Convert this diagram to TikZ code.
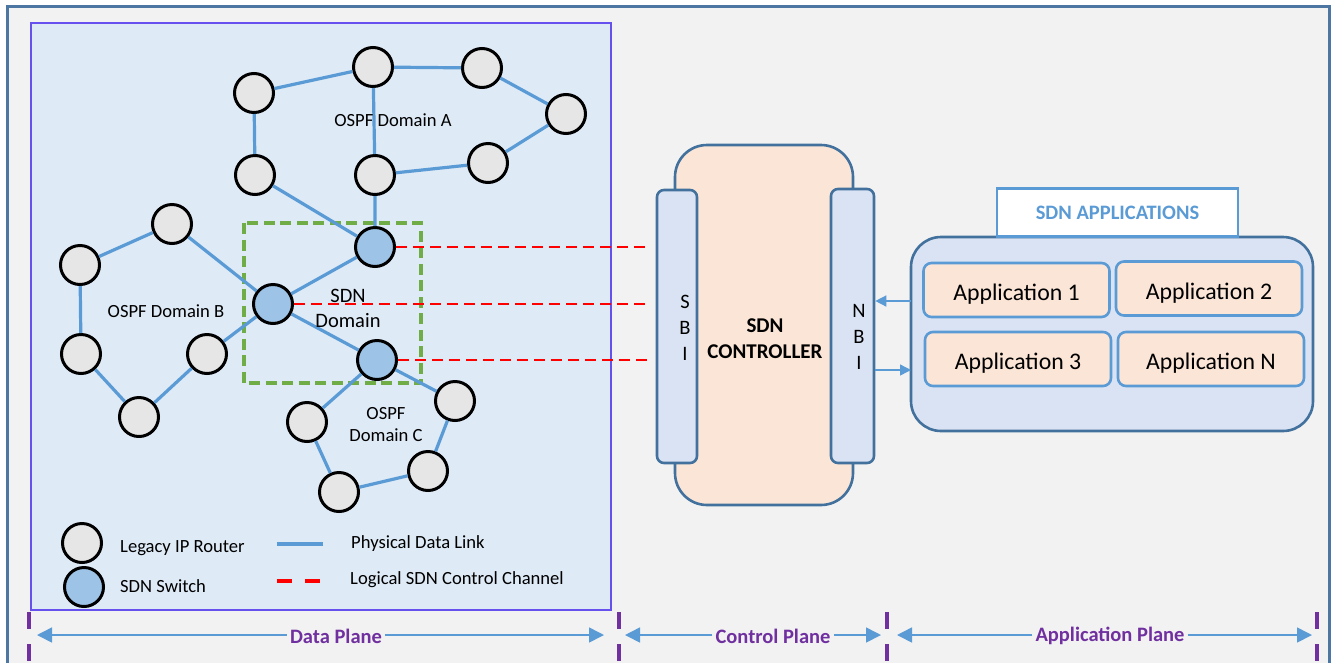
\documentclass[tikz,border=0pt]{standalone}
\usepackage{fontspec}
\setmainfont{Carlito}
\usetikzlibrary{arrows.meta}

\definecolor{bgray}{HTML}{F2F2F2}
\definecolor{frameblue}{HTML}{4D76A3}
\definecolor{dpfill}{HTML}{DEEAF6}
\definecolor{dpedge}{HTML}{6650EE}
\definecolor{linkblue}{HTML}{5B9BD5}
\definecolor{routerfill}{HTML}{E6E6E6}
\definecolor{switchfill}{HTML}{9DC3E6}
\definecolor{sdngreen}{HTML}{70AD47}
\definecolor{ctrlfill}{HTML}{FBE5D6}
\definecolor{ifacefill}{HTML}{DAE3F3}
\definecolor{darkedge}{HTML}{41719C}
\definecolor{planepurple}{HTML}{7030A0}
\definecolor{ctrlred}{HTML}{FF0000}

\tikzset{
  router/.style={circle, draw=black, line width=3pt, fill=routerfill, minimum size=39pt, inner sep=0pt},
  switch/.style={router, fill=switchfill},
  link/.style={draw=linkblue, line width=3.2pt},
  ctrlchan/.style={draw=ctrlred, line width=2.6pt, dash pattern=on 11pt off 6pt},
  txt/.style={font=\fontsize{18.6}{22}\selectfont, inner sep=0pt, align=center},
  domtxt/.style={font=\fontsize{20.5}{25}\selectfont, inner sep=0pt, align=center},
  iface/.style={draw=darkedge, line width=2.6pt, fill=ifacefill, rounded corners=7pt},
  appbox/.style={draw=linkblue, line width=2.6pt, fill=ctrlfill, rounded corners=8pt,
    minimum width=186pt, minimum height=54pt, inner sep=0pt, text height=21pt, text depth=0pt,
    font=\fontsize{23.8}{26}\selectfont},
  apparrow/.style={draw=linkblue, line width=1.4pt, -{Triangle[length=11pt,width=11pt]}},
  planearrow/.style={draw=linkblue, line width=1.6pt, -{Triangle[length=15pt,width=15pt]}},
  planetxt/.style={font=\fontsize{20.5}{24}\selectfont\bfseries, text=planepurple, inner sep=3pt},
  planetick/.style={draw=planepurple, line width=3.2pt, dash pattern=on 17pt off 15pt},
}

\begin{document}
\begin{tikzpicture}[x=1pt, y=-1pt]
\useasboundingbox (0,0) rectangle (1335,662);
\fill[white] (0,0) rectangle (1335,662);

% outer frame
\filldraw[fill=bgray, draw=frameblue, line width=3pt]
  (7.5,670) -- (7.5,6.5) -- (1329,6.5) -- (1329,670);

% data plane area
\filldraw[fill=dpfill, draw=dpedge, line width=2.6pt] (31,23) rectangle (611,610);

% SDN domain boundary
\draw[draw=sdngreen, line width=3.4pt, dash pattern=on 11pt off 5.5pt] (244,223) rectangle (421,383);

% OSPF domain A
\node[router] (a1) at (254,93)  {};
\node[router] (a2) at (373,67)  {};
\node[router] (a3) at (482,68)  {};
\node[router] (a4) at (566,114) {};
\node[router] (a5) at (488,163) {};
\node[router] (a6) at (375,175) {};
\node[router] (a7) at (255,175) {};
% OSPF domain B
\node[router] (b1) at (172,224) {};
\node[router] (b2) at (80,265)  {};
\node[router] (b3) at (81,354)  {};
\node[router] (b4) at (139,417) {};
\node[router] (b5) at (207,354) {};
% OSPF domain C
\node[router] (c1) at (307,422) {};
\node[router] (c2) at (455,401) {};
\node[router] (c3) at (428,471) {};
\node[router] (c4) at (339,492) {};
% SDN switches
\node[switch] (s1) at (375,247) {};
\node[switch] (s2) at (273,304) {};
\node[switch] (s3) at (377,360) {};

% physical links
\path[link] (a1) -- (a2) (a2) -- (a3) (a3) -- (a4) (a4) -- (a5) (a5) -- (a6)
  (a2) -- (a6) (a1) -- (a7) (a6) -- (s1) (a7) -- (s1);
\path[link] (b1) -- (b2) (b2) -- (b3) (b3) -- (b4) (b4) -- (b5) (b5) -- (s2) (b1) -- (s2);
\path[link] (s1) -- (s2) (s2) -- (s3);
\path[link] (s3) -- (c1) (s3) -- (c2) (c2) -- (c3) (c3) -- (c4) (c4) -- (c1);

% domain labels
\node[txt] (la) at (393,120) {OSPF Domain A};
\node[txt] (lb) at (166,311) {OSPF Domain B};
\node[txt] (lc) at (386,425) {OSPF\\Domain C};
\node[domtxt] (ld) at (348,308) {SDN\\Domain};

% SDN controller
\filldraw[fill=ctrlfill, draw=darkedge, line width=2.6pt, rounded corners=32pt]
  (675,145) rectangle (853,505);
\node[iface, minimum width=40pt, minimum height=273pt, inner sep=0pt] (sbi) at (677,326.5) {};
\node[iface, minimum width=43pt, minimum height=274pt, inner sep=0pt] (nbi) at (852.5,326) {};
\node[font=\fontsize{20.5}{26}\selectfont, align=center, inner sep=0pt] (sbit) at (685,328) {S\\B\\I};
\node[font=\fontsize{20.5}{26}\selectfont, align=center, inner sep=0pt] (nbit) at (859,337) {N\\B\\I};
\node[font=\fontsize{21}{26}\selectfont\bfseries, align=center, inner sep=0pt] (ctrl) at (765,339) {SDN\\CONTROLLER};

% logical control channels
\coordinate (e1) at (sbi.west |- s1);
\coordinate (e2) at (sbi.west |- s2);
\coordinate (e3) at (sbi.west |- s3);
\draw[ctrlchan] (s1.east) -- ([xshift=-5pt]e1);
\draw[ctrlchan] (s2.east) -- ([xshift=-5pt]e2);
\draw[ctrlchan] (s3.east) -- ([xshift=-5pt]e3);

% applications
\filldraw[fill=ifacefill, draw=darkedge, line width=2.6pt, rounded corners=30pt]
  (911,237) rectangle (1313,431);
\node[draw=linkblue, line width=2.4pt, fill=white, minimum width=241pt, minimum height=48pt,
  font=\fontsize{20.5}{24}\selectfont\bfseries, text=linkblue, inner sep=0pt] (apptitle) at (1117.5,212.5) {SDN APPLICATIONS};
\node[appbox] (app1) at (1016.5,290) {Application 1};
\node[appbox] (app2) at (1209,288.5) {Application 2};
\node[appbox] (app3) at (1018,359) {Application 3};
\node[appbox] (appn) at (1211,359) {Application N};

% northbound interface arrows
\coordinate (ain) at (911,301);
\coordinate (aout) at (911,370);
\draw[apparrow] (ain) -- (nbi.east |- ain);
\draw[apparrow] (nbi.east |- aout) -- (aout);

% legend
\node[router] (lg1) at (82,543) {};
\node[switch] (lg2) at (84,587) {};
\node[txt, anchor=west] (lgt1) at (120,548) {Legacy IP Router};
\node[txt, anchor=west] (lgt2) at (120,586) {SDN Switch};
\coordinate (lp1) at (277,544);
\coordinate (lp2) at (323,544);
\draw[link, line width=3.6pt] (lp1) -- (lp2);
\coordinate (lc1) at (277,581);
\coordinate (lc2) at (321,581);
\draw[draw=ctrlred, line width=3.4pt, dash pattern=on 15pt off 13pt] (lc1) -- (lc2);
\node[txt, anchor=west] (lgt3) at (351,544) {Physical Data Link};
\node[txt, anchor=west] (lgt4) at (350,580) {Logical SDN Control Channel};

% plane markers
\draw[planetick] (29,612) -- (29,662);
\draw[planetick] (619,612) -- (619,662);
\draw[planetick] (887,612) -- (887,662);
\draw[planetick] (1317,612) -- (1317,662);

\node[planetxt] (dp) at (336,636) {Data Plane};
\node[planetxt] (cp) at (773,636) {Control Plane};
\node[planetxt] (ap) at (1110,636) {Application Plane};
\coordinate (dpl) at (37,635);  \coordinate (dpr) at (604,635);
\coordinate (cpl) at (625,635); \coordinate (cpr) at (881,635);
\coordinate (apl) at (897,635); \coordinate (apr) at (1312,635);
\draw[planearrow] (dp.west |- dpl) -- (dpl);
\draw[planearrow] (dp.east |- dpr) -- (dpr);
\draw[planearrow] (cp.west |- cpl) -- (cpl);
\draw[planearrow] (cp.east |- cpr) -- (cpr);
\draw[planearrow] (ap.west |- apl) -- (apl);
\draw[planearrow] (ap.east |- apr) -- (apr);
\end{tikzpicture}
\end{document}
